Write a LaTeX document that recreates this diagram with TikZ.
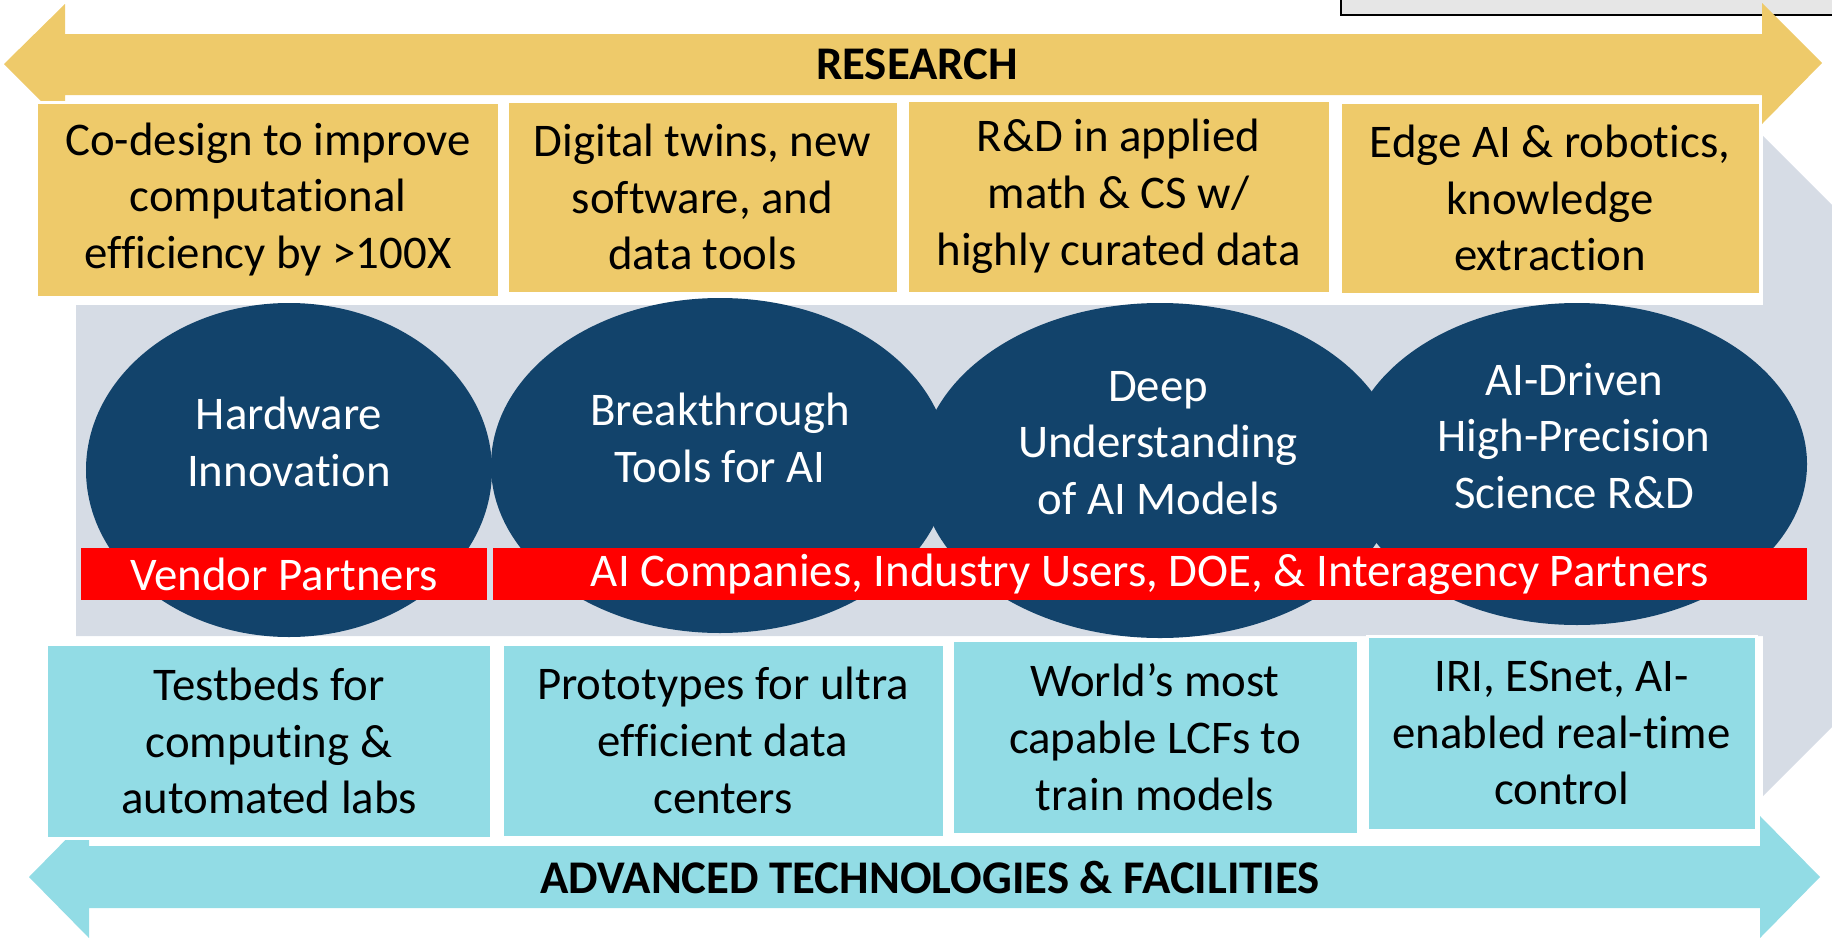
\documentclass[tikz,border=0pt]{standalone}
\usepackage{fontspec}
\setmainfont{Carlito}[Ligatures={CommonOff}]
\usetikzlibrary{shapes.geometric}
\definecolor{ygold}{RGB}{238,202,106}
\definecolor{lcyan}{RGB}{146,220,229}
\definecolor{bandgray}{RGB}{214,220,229}
\definecolor{navy}{RGB}{18,67,107}
\definecolor{boxgray}{RGB}{230,230,230}
\definecolor{redbar}{RGB}{255,0,0}
\tikzset{
  txt/.style={font=\fontsize{47}{57}\selectfont, align=center, inner sep=0pt},
  ybox/.style={txt, fill=ygold, draw=white, line width=3bp, rectangle},
  cbox/.style={txt, fill=lcyan, draw=white, line width=3bp, rectangle},
  ell/.style={ellipse, fill=navy, draw=none, inner sep=0pt},
  ellt/.style={txt, text=white},
  rbar/.style={txt, fill=redbar, text=white, rectangle, draw=none},
  bandlabel/.style={font=\fontsize{47}{57}\selectfont\bfseries, inner sep=0pt}
}
\begin{document}
\begin{tikzpicture}[x=1bp,y=-1bp]
\useasboundingbox (0,0) rectangle (1832,937);
\clip (0,0) rectangle (1832,937);

% top-right framed box
\draw[fill=boxgray, line width=2bp] (1341,-20) rectangle (1850,15);

% big gray arrow (background)
\fill[bandgray] (76,305) -- (1763,305) -- (1763,136) -- (2093,466) -- (1763,796) -- (1763,636) -- (76,636) -- cycle;

% top research arrow
\fill[ygold] (4,64) -- (65,4) -- (65,34) -- (1762,34) -- (1762,3) -- (1822,63) -- (1762,124) -- (1762,95) -- (65,95) -- (65,125) -- cycle;
\node[bandlabel] (research) at (917,64) {RESEARCH};

% bottom facilities arrow
\fill[lcyan] (29,877) -- (89,816) -- (89,846) -- (1760,846) -- (1760,816) -- (1820,877) -- (1760,938) -- (1760,908) -- (89,908) -- (89,938) -- cycle;
\node[bandlabel] (facilities) at (930,877) {ADVANCED TECHNOLOGIES \& FACILITIES};

% yellow boxes
\node[ybox, minimum width=462bp, minimum height=195bp] (y1) at (268,199.5) {Co-design to improve\\computational\\efficiency by >100X};
\node[ybox, minimum width=391bp, minimum height=192bp] (y2) at (702.5,197) {Digital twins, new\\software, and\\data tools};
\node[ybox, minimum width=423bp, minimum height=193bp] (y3) at (1118.5,196.5) {R\&D in applied\\math \& CS w/\\highly curated data};
\node[ybox, minimum width=420bp, minimum height=192bp] (y4) at (1550,198) {Edge AI \& robotics,\\knowledge\\extraction};

% ellipses
\node[ell, minimum width=406bp, minimum height=334bp] (e1) at (289,470) {};
\node[ell, minimum width=458bp, minimum height=335bp] (e2) at (720,465.5) {};
\node[ell, minimum width=480bp, minimum height=335bp] (e3) at (1160,470.5) {};
\node[ell, minimum width=460bp, minimum height=322bp] (e4) at (1577,464) {};
\node[ellt] (e1t) at (289,442) {Hardware\\Innovation};
\node[ellt] (e2t) at (720,438) {Breakthrough\\Tools for AI};
\node[ellt] (e3t) at (1158,443) {Deep\\Understanding\\of AI Models};
\node[ellt] (e4t) at (1574,436) {AI-Driven\\High-Precision\\Science R\&D};

% red partner bars
\node[rbar, minimum width=406bp, minimum height=52bp] (r1) at (284,574) {Vendor Partners};
\node[rbar, minimum width=1314bp, minimum height=52bp] (r2) at (1150,574) {AI Companies, Industry Users, DOE, \& Interagency Partners};

% cyan boxes
\node[cbox, minimum width=444bp, minimum height=194bp] (c1) at (269,741) {Testbeds for\\computing \&\\automated labs};
\node[cbox, minimum width=442bp, minimum height=193bp] (c2) at (723,740.5) {Prototypes for ultra\\efficient data\\centers};
\node[cbox, minimum width=406bp, minimum height=194bp] (c3) at (1155,737) {World’s most\\capable LCFs to\\train models};
\node[cbox, minimum width=389bp, minimum height=194bp] (c4) at (1561.5,733) {IRI, ESnet, AI-\\enabled real-time\\control};
\end{tikzpicture}
\end{document}
